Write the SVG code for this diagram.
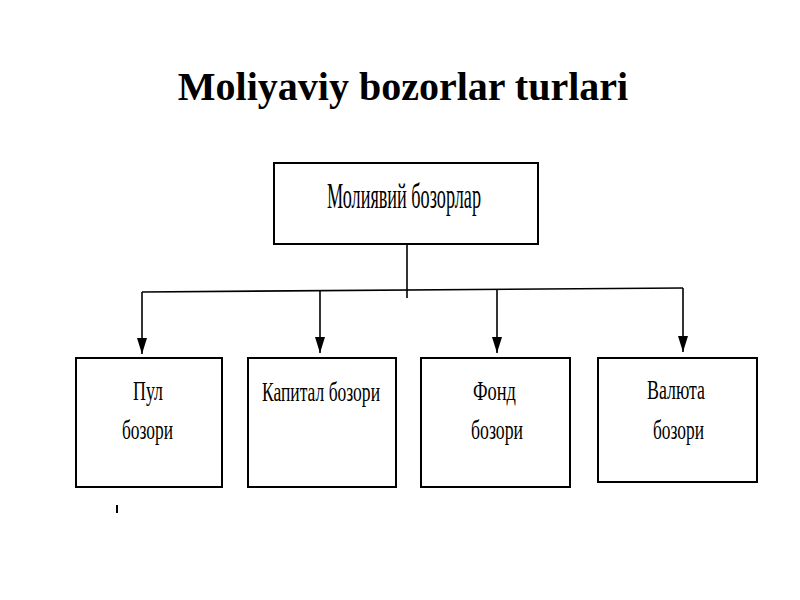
<svg xmlns="http://www.w3.org/2000/svg" width="800" height="600" viewBox="0 0 800 600">
<defs>
<style>
.box{fill:#fff;stroke:#000;stroke-width:2}
.lbl{font-family:"Liberation Serif","Times New Roman",serif;fill:#000;text-anchor:start}
.conn{fill:none;stroke:#000;stroke-width:1.6}
.title{font-family:"Liberation Serif","Times New Roman",serif;font-weight:bold;font-size:40px;fill:#000;text-anchor:middle}
</style>
<marker id="ah" markerWidth="16" markerHeight="10" refX="16" refY="5" orient="auto" markerUnits="userSpaceOnUse" viewBox="0 0 16 10">
<path d="M0,0 L16,5 L0,10 Z" fill="#000"/>
</marker>
</defs>
<rect width="800" height="600" fill="#fff"/>
<text class="title" x="403" y="100">Moliyaviy bozorlar turlari</text>

<g id="connectors">
<line class="conn" x1="407" y1="234" x2="407" y2="298"/>
<polyline class="conn" points="142,292 683,288"/>
<line class="conn" x1="142" y1="292" x2="142" y2="354" marker-end="url(#ah)"/>
<line class="conn" x1="320" y1="291" x2="320" y2="353" marker-end="url(#ah)"/>
<line class="conn" x1="497" y1="290" x2="497" y2="353" marker-end="url(#ah)"/>
<line class="conn" x1="683" y1="288" x2="683" y2="352" marker-end="url(#ah)"/>
</g>

<g id="node-root">
<rect class="box" x="274" y="163" width="264" height="81"/>
<text class="lbl" x="327" y="208" font-size="35" textLength="154" lengthAdjust="spacingAndGlyphs">Молиявий бозорлар</text>
</g>

<g id="node-pul">
<rect class="box" x="76" y="358" width="146" height="129"/>
<text class="lbl" x="133" y="400" font-size="28" textLength="30" lengthAdjust="spacingAndGlyphs">Пул</text>
<text class="lbl" x="122" y="439" font-size="28" textLength="51" lengthAdjust="spacingAndGlyphs">бозори</text>
</g>

<g id="node-kapital">
<rect class="box" x="248" y="358" width="148" height="129"/>
<text class="lbl" x="262" y="401" font-size="28" textLength="118" lengthAdjust="spacingAndGlyphs">Капитал бозори</text>
</g>

<g id="node-fond">
<rect class="box" x="421" y="358" width="149" height="129"/>
<text class="lbl" x="473" y="400" font-size="28" textLength="43" lengthAdjust="spacingAndGlyphs">Фонд</text>
<text class="lbl" x="471" y="439" font-size="28" textLength="52" lengthAdjust="spacingAndGlyphs">бозори</text>
</g>

<g id="node-valyuta">
<rect class="box" x="598" y="358" width="159" height="124"/>
<text class="lbl" x="647" y="399" font-size="28" textLength="58" lengthAdjust="spacingAndGlyphs">Валюта</text>
<text class="lbl" x="653" y="439" font-size="28" textLength="51" lengthAdjust="spacingAndGlyphs">бозори</text>
</g>

<line x1="117" y1="505" x2="117" y2="513" stroke="#000" stroke-width="2"/>
</svg>
